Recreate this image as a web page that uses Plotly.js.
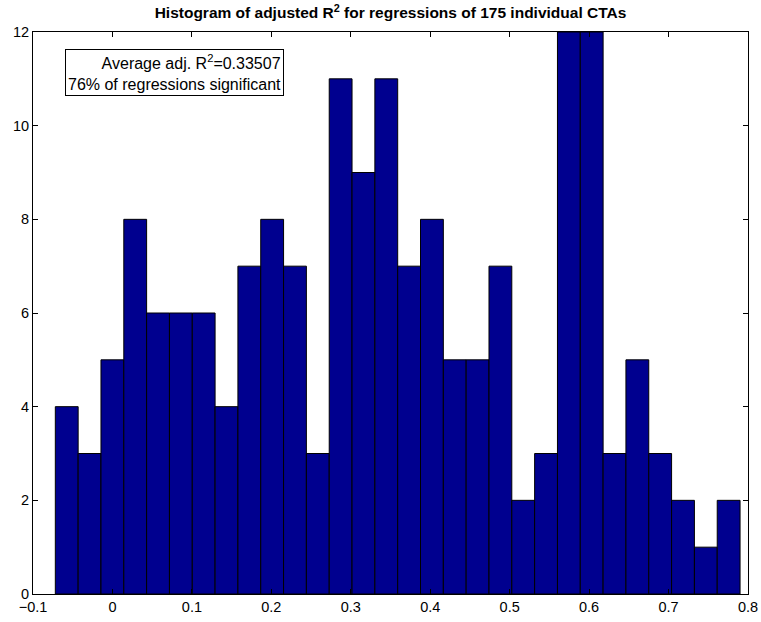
<!DOCTYPE html>
<html>
<head>
<meta charset="utf-8">
<script src="https://cdn.plot.ly/plotly-3.0.1.min.js"></script>
<style>
  html, body { margin: 0; padding: 0; background: #fff; }
  #chart { width: 761px; height: 622px; }
</style>
</head>
<body>
<div id="chart"></div>
<script>
// Histogram bin layout (30 equal bins) and counts per bin
const binStart = -0.0719;
const binWidth = 0.02873;
const counts = [4, 3, 5, 8, 6, 6, 6, 4, 7, 8, 7, 3, 11, 9, 11, 7, 8, 5, 5, 7, 2, 3, 12, 12, 3, 5, 3, 2, 1, 2];

const xTicks = [-0.1, 0, 0.1, 0.2, 0.3, 0.4, 0.5, 0.6, 0.7, 0.8];
const xTickText = ['\u22120.1', '0', '0.1', '0.2', '0.3', '0.4', '0.5', '0.6', '0.7', '0.8'];
const yTicks = [0, 2, 4, 6, 8, 10, 12];

const avgR2 = '0.33507';
const pctSignificant = 76;
const nCTAs = counts.reduce((a, b) => a + b, 0);

const centers = counts.map((_, i) => binStart + binWidth * (i + 0.5));

const family = '"Liberation Sans", Arial, Helvetica, sans-serif';
const tickFont = { family: family, size: 14.5, color: '#000' };

const trace = {
  type: 'bar',
  x: centers,
  y: counts,
  width: binWidth,
  marker: { color: 'rgb(0,0,143)', line: { color: '#000', width: 1 } },
  hoverinfo: 'x+y'
};

const axisCommon = {
  showline: true, linecolor: '#000', linewidth: 1,
  mirror: 'ticks', ticks: 'inside', ticklen: 5, tickcolor: '#000',
  showgrid: false, zeroline: false, tickfont: tickFont
};

const layout = {
  width: 761, height: 622,
  margin: { l: 33, r: 13, t: 32, b: 28 },
  paper_bgcolor: '#fff', plot_bgcolor: '#fff',
  font: tickFont,
  showlegend: false,
  bargap: 0,
  title: {
    text: '<b>Histogram of adjusted R<sup>2</sup> for regressions of ' + nCTAs + ' individual CTAs</b>',
    font: { family: family, size: 15.5, color: '#000' },
    x: 0.5, xref: 'paper', xanchor: 'center',
    y: 0.979, yref: 'container', yanchor: 'middle'
  },
  xaxis: Object.assign({}, axisCommon, {
    range: [-0.1, 0.8],
    tickvals: xTicks, ticktext: xTickText
  }),
  yaxis: Object.assign({}, axisCommon, {
    range: [0, 12],
    tickvals: yTicks
  }),
  annotations: [{
    xref: 'paper', yref: 'paper',
    x: 0.0448, y: 0.970, xanchor: 'left', yanchor: 'top',
    text: 'Average adj. R<sup>2</sup>=' + avgR2 + '<br>' + pctSignificant + '% of regressions significant',
    align: 'right', showarrow: false,
    bordercolor: '#000', borderwidth: 1, borderpad: 2, bgcolor: '#fff',
    font: { family: family, size: 16, color: '#000' }
  }]
};

Plotly.newPlot('chart', [trace], layout, { displayModeBar: false, staticPlot: true });
</script>
</body>
</html>
